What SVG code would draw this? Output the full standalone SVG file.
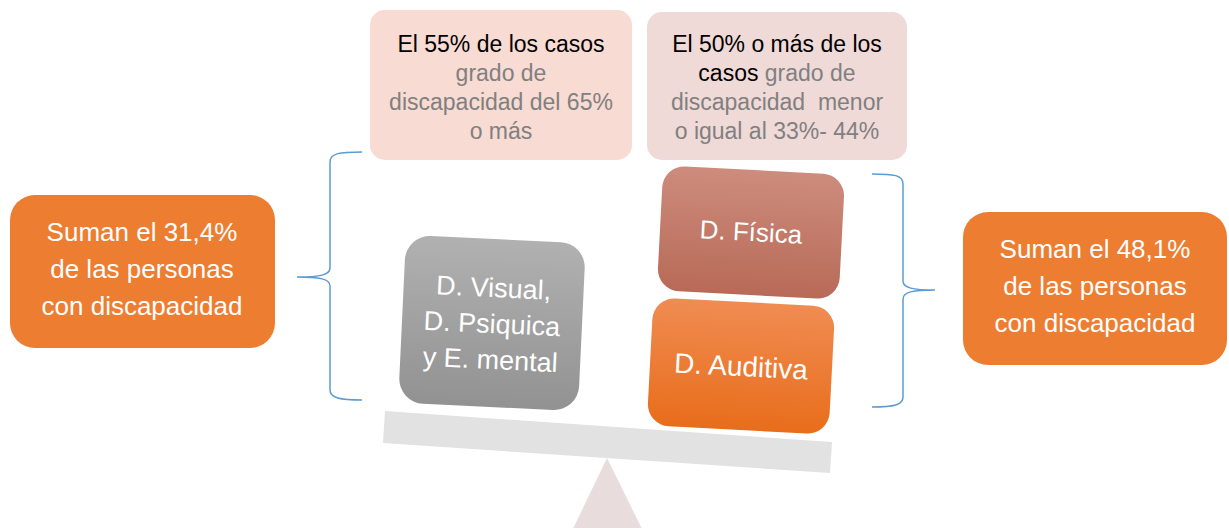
<svg xmlns="http://www.w3.org/2000/svg" width="1229" height="528" viewBox="0 0 1229 528">
<style>
text{font-family:"Liberation Sans",Arial,sans-serif;text-anchor:middle}
.top{font-size:23px;fill:#000}
.g{fill:#808080}
.w{fill:#fff}
.side{font-size:26px}
.brace{fill:none;stroke:#5b9bd5;stroke-width:1.5}
</style>
<defs>
<linearGradient id="gGray" x1="0" y1="0" x2="0" y2="1"><stop offset="0" stop-color="#b1b1b1"/><stop offset="1" stop-color="#929292"/></linearGradient>
<linearGradient id="gFis" x1="0" y1="0" x2="0" y2="1"><stop offset="0" stop-color="#cd8c7d"/><stop offset="1" stop-color="#b86a57"/></linearGradient>
<linearGradient id="gAud" x1="0" y1="0" x2="0" y2="1"><stop offset="0" stop-color="#f08c52"/><stop offset="1" stop-color="#e86d1b"/></linearGradient>
</defs>
<rect width="1229" height="528" fill="#fff"/>
<g id="fulcrum"><polygon points="607,458 570,535 645,535" fill="#e9dcdc"/></g>
<g id="beam"><polygon points="385,411 832,442 830,473 383,443" fill="#e2e2e2"/></g>
<g id="box55">
<rect x="370" y="10" width="262" height="150" rx="15" fill="#f8dbd3"/>
<text class="top" x="501" y="52">El 55% de los casos</text>
<text class="top g" x="501" y="81">grado de</text>
<text class="top g" x="501" y="110">discapacidad del 65%</text>
<text class="top g" x="501" y="139">o más</text>
</g>
<g id="box50">
<rect x="647" y="12" width="260" height="148" rx="15" fill="#f0dad8"/>
<text class="top" x="777" y="52">El 50% o más de los</text>
<text class="top" x="777" y="81">casos <tspan class="g">grado de</tspan></text>
<text class="top g" x="777" y="110" xml:space="preserve">discapacidad  menor</text>
<text class="top g" x="777" y="139">o igual al 33%- 44%</text>
</g>
<g id="left-sum">
<rect x="10" y="195" width="265" height="153" rx="25" fill="#ed7d31"/>
<text class="side w" x="142" y="241">Suman el 31,4%</text>
<text class="side w" x="142" y="278">de las personas</text>
<text class="side w" x="142" y="315">con discapacidad</text>
</g>
<g id="right-sum">
<rect x="963" y="212" width="264" height="153" rx="25" fill="#ed7d31"/>
<text class="side w" x="1095" y="258">Suman el 48,1%</text>
<text class="side w" x="1095" y="295">de las personas</text>
<text class="side w" x="1095" y="332">con discapacidad</text>
</g>
<g id="visual" transform="translate(492,323) rotate(2.7)">
<rect x="-90" y="-84" width="180" height="168" rx="25" fill="url(#gGray)"/>
<text class="w" style="font-size:27px" x="0" y="-26">D. Visual,</text>
<text class="w" style="font-size:27px" x="0" y="10">D. Psiquica</text>
<text class="w" style="font-size:27px" x="0" y="46">y E. mental</text>
</g>
<g id="fisica" transform="translate(751,232) rotate(3)">
<rect x="-91" y="-62" width="182" height="125" rx="22" fill="url(#gFis)"/>
<text class="w" style="font-size:26px" x="0" y="9">D. Física</text>
</g>
<g id="auditiva" transform="translate(741,366) rotate(3)">
<rect x="-91" y="-64" width="182" height="128" rx="22" fill="url(#gAud)"/>
<text class="w" style="font-size:28px" x="0" y="10">D. Auditiva</text>
</g>
<g id="connectors">
<path class="brace" d="M362,152 C340,152 330,153 330,162 L330,268 C330,275 320,277 297,277 C320,277 330,279 330,286 L330,390 C330,398 340,400 362,400"/>
<path class="brace" d="M872,174 C894,174 903,175 903,184 L903,281 C903,288 913,290 935,290 C913,290 903,292 903,299 L903,397 C903,405 894,407 872,407"/>
</g>
</svg>
